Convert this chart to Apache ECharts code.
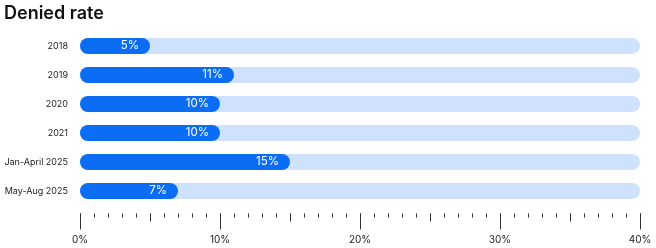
<!DOCTYPE html>
<html><head><meta charset="utf-8">
<script src="https://cdn.jsdelivr.net/npm/echarts@6/dist/echarts.min.js"></script>
<style>html,body{margin:0;padding:0;background:#fff}#c{width:656px;height:248px}</style>
</head><body><div id="c"></div>
<script>
const categories = ['2018', '2019', '2020', '2021', 'Jan-April 2025', 'May-Aug 2025'];
const deniedRate = [5, 11, 10, 10, 15, 7];
const tickLabels = ['0%', '10%', '20%', '30%', '40%'];
const axisMax = 40;

const chart = echarts.init(document.getElementById('c'), null, {renderer: 'canvas'});
const tickColor = '#333';
function axis(interval, len, showLabel) {
  return {
    type: 'value', min: 0, max: axisMax, interval: interval, position: 'bottom', offset: 8,
    axisLine: {show: false}, splitLine: {show: false},
    axisTick: {show: true, length: len, lineStyle: {color: tickColor, width: 1}},
    axisLabel: {show: showLabel, margin: 21, fontSize: 10, color: '#222', fontFamily: 'Inter',
      formatter: v => tickLabels[Math.round(v / 10)] ?? ''}
  };
}
chart.setOption({
  animation: false,
  title: {text: 'Denied rate', left: -1, top: 0,
    textStyle: {fontFamily: 'Inter', fontSize: 18, fontWeight: 600, color: '#111'}},
  grid: {left: 80, right: 16, top: 31.5, bottom: 42.5, containLabel: false, outerBoundsMode: 'none'},
  xAxis: [axis(10, 16, true), axis(5, 8, false), axis(1, 4, false)],
  yAxis: {type: 'category', data: categories, inverse: true,
    axisLine: {show: false}, axisTick: {show: false},
    axisLabel: {margin: 12, fontSize: 9, color: '#222', fontFamily: 'Inter'}},
  series: [{
    type: 'bar', data: deniedRate, xAxisIndex: 0, barWidth: 16,
    showBackground: true,
    backgroundStyle: {color: '#cfe2fd', borderRadius: 8},
    itemStyle: {color: '#0b6cf4', borderRadius: 8},
    label: {show: true, position: 'insideRight', distance: 11, color: '#fff',
      fontSize: 11.5, fontFamily: 'Inter', formatter: p => p.value + '%'}
  }]
});
</script></body></html>
